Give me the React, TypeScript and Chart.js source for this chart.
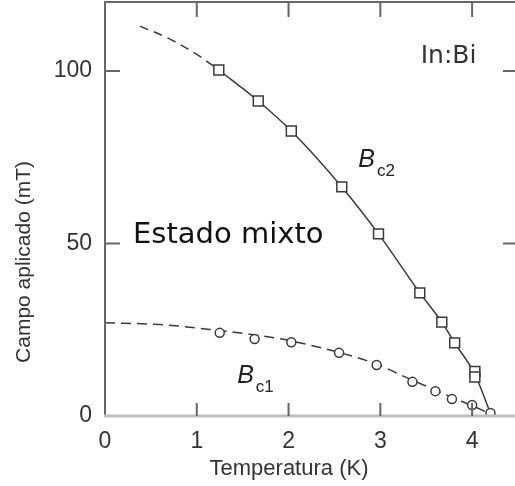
import { useEffect, useRef } from "react";
import { Chart, registerables } from "chart.js";

Chart.register(...registerables);

// Axis tick values
const tempTicks = [0, 1, 2, 3, 4];
const fieldTicks = [0, 50, 100];

// Bc2 measured points (squares)
const bc2SquaresT = [1.24, 1.67, 2.03, 2.58, 2.98, 3.43, 3.67, 3.81, 4.03, 4.03];
const bc2SquaresB = [100.3, 91.3, 82.6, 66.4, 52.8, 35.7, 27.2, 21.2, 12.9, 11.3];

// Bc2 fitted curve (solid) and extrapolation (dashed)
const bc2CurveT = [1.24, 1.67, 2.03, 2.58, 2.98, 3.43, 3.67, 3.81, 4.03, 4.2];
const bc2CurveB = [100.3, 91.3, 82.6, 66.4, 52.8, 35.7, 27.2, 21.2, 12.1, 0.8];
const bc2ExtrapT = [0.38, 0.68, 1.0, 1.24];
const bc2ExtrapB = [113.0, 109.6, 104.8, 100.3];

// Bc1 measured points (circles)
const bc1CirclesT = [1.25, 1.63, 2.03, 2.55, 2.96, 3.35, 3.6, 3.78, 4.0, 4.2];
const bc1CirclesB = [24.1, 22.3, 21.4, 18.3, 14.8, 9.9, 7.2, 4.9, 3.2, 0.9];

// Bc1 fitted curve (dashed)
const bc1CurveT = [0, 0.6, 1.14, 1.6, 1.98, 2.54, 2.96, 3.33, 3.6, 3.78, 4.0, 4.2];
const bc1CurveB = [27.0, 26.5, 25.1, 23.6, 22.0, 18.5, 15.0, 10.6, 7.5, 5.4, 3.0, 0.6];

const pts = (xs: number[], ys: number[]) => xs.map((x, i) => ({ x, y: ys[i] }));

const INK = "#3a3a3a";

const framePlugin = {
  id: "frame",
  afterDraw(chart: any) {
    const { ctx, chartArea: a, scales } = chart;
    const xs = scales.x;
    const ys = scales.y;
    ctx.save();
    // frame
    ctx.strokeStyle = "#666";
    ctx.lineWidth = 2;
    ctx.beginPath();
    ctx.moveTo(a.left, a.bottom);
    ctx.lineTo(a.left, a.top);
    ctx.lineTo(a.right, a.top);
    ctx.lineTo(a.right, a.bottom);
    ctx.stroke();
    ctx.strokeStyle = "#bdbdbd";
    ctx.lineWidth = 3;
    ctx.beginPath();
    ctx.moveTo(a.left - 1, a.bottom);
    ctx.lineTo(a.right, a.bottom);
    ctx.stroke();
    // inward ticks
    ctx.strokeStyle = "#666";
    ctx.lineWidth = 2;
    ctx.beginPath();
    tempTicks.forEach((t) => {
      if (t === 0) return;
      const px = xs.getPixelForValue(t);
      ctx.moveTo(px, a.bottom);
      ctx.lineTo(px, a.bottom - 13);
      ctx.moveTo(px, a.top);
      ctx.lineTo(px, a.top + 15);
    });
    fieldTicks.forEach((v) => {
      if (v === 0) return;
      const py = ys.getPixelForValue(v);
      ctx.moveTo(a.left, py);
      ctx.lineTo(a.left + 15, py);
      ctx.moveTo(a.right, py);
      ctx.lineTo(a.right - 15, py);
    });
    ctx.stroke();
    // axis titles
    ctx.fillStyle = "#333";
    ctx.font = "22px 'Liberation Sans', Arial, sans-serif";
    ctx.textAlign = "center";
    ctx.textBaseline = "alphabetic";
    ctx.fillText("Temperatura (K)", 289, 475);
    ctx.save();
    ctx.translate(30, 262);
    ctx.rotate(-Math.PI / 2);
    ctx.font = "21px 'Liberation Sans', Arial, sans-serif";
    ctx.fillText("Campo aplicado (mT)", 0, 0);
    ctx.restore();
    ctx.restore();
  },
};

const labelPlugin = {
  id: "labels",
  afterDatasetsDraw(chart: any) {
    const { ctx, scales } = chart;
    const X = (v: number) => scales.x.getPixelForValue(v);
    const Y = (v: number) => scales.y.getPixelForValue(v);
    ctx.save();
    ctx.textAlign = "left";
    ctx.textBaseline = "alphabetic";
    ctx.fillStyle = "#333";
    ctx.font = "25px 'DejaVu Sans', sans-serif";
    ctx.fillText("In:Bi", X(3.44), Y(102.3));
    ctx.fillStyle = "#111";
    ctx.font = "29px 'DejaVu Sans', sans-serif";
    ctx.fillText("Estado mixto", X(0.305), Y(50.1));
    const sub = (main: string, s: string, t: number, b: number) => {
      ctx.fillStyle = "#222";
      ctx.font = "italic 25px 'Liberation Sans', Arial, sans-serif";
      const x0 = X(t);
      const y0 = Y(b);
      ctx.fillText(main, x0, y0);
      const w = ctx.measureText(main).width;
      ctx.font = "17px 'Liberation Sans', Arial, sans-serif";
      ctx.fillText(s, x0 + w + 2, y0 + 9);
    };
    sub("B", "c2", 2.76, 72.2);
    sub("B", "c1", 1.44, 9.6);
    ctx.restore();
  },
};

export default function App() {
  const ref = useRef<HTMLCanvasElement | null>(null);
  useEffect(() => {
    if (!ref.current) return;
    const chart = new Chart(ref.current, {
      type: "scatter",
      data: {
        datasets: [
          {
            data: pts(bc2SquaresT, bc2SquaresB),
            pointStyle: "rect",
            pointRadius: 7,
            pointBorderWidth: 1.5,
            pointBorderColor: INK,
            pointBackgroundColor: "#fff",
            showLine: false,
          },
          {
            data: pts(bc1CirclesT, bc1CirclesB),
            pointStyle: "circle",
            pointRadius: 4.5,
            pointBorderWidth: 1.5,
            pointBorderColor: INK,
            pointBackgroundColor: "#fff",
            showLine: false,
          },
          {
            data: pts(bc2CurveT, bc2CurveB),
            showLine: true,
            borderColor: INK,
            borderWidth: 1.5,
            pointRadius: 0,
            cubicInterpolationMode: "monotone",
          },
          {
            data: pts(bc2ExtrapT, bc2ExtrapB),
            showLine: true,
            borderColor: INK,
            borderWidth: 1.5,
            borderDash: [9, 6],
            pointRadius: 0,
            tension: 0.4,
          },
          {
            data: pts(bc1CurveT, bc1CurveB),
            showLine: true,
            borderColor: INK,
            borderWidth: 1.5,
            borderDash: [10, 6],
            pointRadius: 0,
            cubicInterpolationMode: "monotone",
          },
        ],
      },
      options: {
        animation: false,
        responsive: true,
        maintainAspectRatio: false,
        layout: { autoPadding: false, padding: { top: 2, right: 0, left: 0, bottom: 0 } },
        plugins: { legend: { display: false }, tooltip: { enabled: false } },
        scales: {
          x: {
            type: "linear",
            min: 0,
            max: 4.5,
            grid: { display: false, drawTicks: false, tickLength: 0 },
            border: { display: false },
            ticks: {
              stepSize: 1,
              padding: 12,
              color: "#333",
              font: { family: "'Liberation Sans', Arial, sans-serif", size: 23 },
            },
            afterBuildTicks: (s: any) => {
              s.ticks = tempTicks.map((v) => ({ value: v }));
            },
            afterFit: (s: any) => {
              s.height = 70;
              s.paddingLeft = 0;
              s.paddingRight = 0;
            },
          },
          y: {
            type: "linear",
            min: 0,
            max: 120,
            grid: { display: false, drawTicks: false, tickLength: 0 },
            border: { display: false },
            ticks: {
              stepSize: 50,
              padding: 13,
              color: "#333",
              font: { family: "'Liberation Sans', Arial, sans-serif", size: 23 },
            },
            afterBuildTicks: (s: any) => {
              s.ticks = fieldTicks.map((v) => ({ value: v }));
            },
            afterFit: (s: any) => {
              s.width = 105;
              s.paddingTop = 0;
              s.paddingBottom = 0;
            },
          },
        },
      },
      plugins: [labelPlugin, framePlugin],
    });
    return () => chart.destroy();
  }, []);

  return (
    <div
      style={{
        position: "fixed",
        left: 0,
        top: 0,
        width: 515,
        height: 486,
        overflow: "hidden",
        background: "#fff",
      }}
    >
      <div style={{ position: "relative", width: 518, height: 486 }}>
        <canvas ref={ref} />
      </div>
    </div>
  );
}
